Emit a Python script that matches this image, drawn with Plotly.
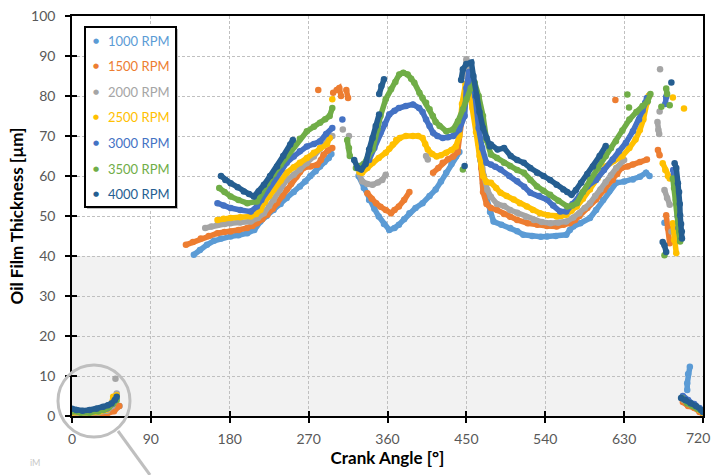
import plotly.graph_objects as go

N = None
# ---- data (crank angle [deg], oil film thickness [um]); None = gap ----
angle_1000 = [0, 8, 16, 24, 32, 40, 48, 54, N,
              139, 146, 154, 162, 170, 181, 190, 200, 208, 215, 222, 230, 238, 245, 253, 260, 266, 272, 278, 283, 288, 293, 296, N,
              327, 333, 339, 345, 350, 356, 362, 368, 373, 379, 385, 392, 400, 408, 415, 421, 427, 433, 438, 442, N,
              458, 462, 466, 469, 473, 477, 481, 490, 500, 508, 515, 525, 535, 542, 552, 564, 568, 572, 580, 591, 598, 606, 613, 621, 630, 640, 648, 655, 659, N,
              676, N, 705, 703, 702, 702, N, 699, 703, 708, 713, 718]
oft_1000 = [0.8, 0.6, 0.5, 0.6, 0.7, 0.9, 1.5, 2.5, N,
            40.3, 41.5, 42.8, 43.8, 44.4, 44.9, 45.2, 45.7, 46.5, 48.6, 50, 51.5, 53, 54.5, 56, 57.4, 58.6, 60, 61.2, 62.4, 63.5, 64.5, 65.5, N,
            60, 57, 54, 51.8, 49.9, 48, 46.5, 47, 47.8, 49.2, 50.7, 52, 53.2, 55, 56.6, 58.6, 60.8, 63, 64.9, 66, N,
            79, 72, 64, 58.2, 54.5, 51, 48.6, 47.8, 47, 46.2, 45.3, 45, 44.8, 44.9, 45, 45.3, 46.5, 47.4, 48.2, 49.5, 51.5, 54, 56.2, 58.3, 58.6, 59.1, 59.8, 60.8, 60, N,
            48.3, N, 12.3, 10.5, 8.2, 6.5, N, 4.5, 3.5, 3, 2.2, 1.2]

angle_1500 = [0, 10, 20, 30, 40, 48, 54, N,
              130, 138, 147, 156, 166, 174, 181, 190, 200, 206, 211, 217, 223, 229, 234, 240, 245, 250, 256, 260, 264, 272, 280, 284, 287, 292, 297, N,
              281, N, 298, N, 302, 305, 307, N, 313, 315, N,
              337, 342, 347, 352, 358, 364, 368, 373, 379, 385, N,
              412, 418, 423, 429, 435, 440, 446, 450, 453, 456, 460, 464, 467, 469, 473, 478, 485, 493, 500, 508, 520, 531, 542, 553, 561, 568, 574, 579, 588, 598, 607, 617, 622, 627, 634, 640, 648, 656, N,
              620, N, 659, N, 668.6, 670.5, N, 678, 680, 682, N, 697, 703, 710, 716, 720]
oft_1500 = [0.4, 0.3, 0.3, 0.4, 0.6, 1.2, 2.5, N,
            42.8, 43.5, 44.4, 45, 45.7, 46, 46.1, 46.5, 47, 47.5, 48.2, 49.2, 50.3, 51.8, 53.2, 55, 56.6, 58, 59.8, 61, 62, 62.4, 62.8, 64, 65.3, 66.4, 67, N,
            81.5, N, 80.8, N, 81.5, 82, 80, N, 81.5, 79.5, N,
            55.7, 54.3, 53.2, 52.3, 51.5, 50.7, 51.5, 52.4, 54, 56, N,
            60.8, 62, 63.3, 64.2, 64.9, 66, 76, 80, 83, 82, 78, 70, 62, 56, 53, 52, 51.5, 50.5, 49.8, 49, 48.2, 47.8, 47.5, 47.4, 47.8, 48.2, 49, 50, 52, 54.1, 56.5, 59, 60.5, 62, 62.4, 62.9, 63.5, 64.1, N,
            79, N, 80.2, N, 66.5, 65.2, N, 50.2, 47, 43.2, N, 3.5, 2.5, 2, 1, 0.5]

angle_2000 = [0, 10, 20, 30, 40, 46, 50, 51, N, 49.6, N,
              152, 159, 166, 174, 181, 192, 204, 212, 219, 225, 230, 237, 245, 253, 260, 268, 276, 283, 291, 297, N,
              309, N, 316, N,
              328, 331, 337, 343, 349, 354, 358, N, 404, 406, N,
              447, 450, 453, 456, 460, 464, 468, 470, 474, 478, 485, 493, 500, 508, 518, 527, 536, 546, 555, 564, 572, 579, 585, 591, 597, 603, 609, 615, 621, 630, N,
              671, N, 670.5, N, 668, 669, 670, N, 676, 679, 682, N, 684, N, 698, 704, 710, 716, 720]
oft_2000 = [0.8, 0.7, 0.7, 0.9, 1.3, 2.5, 4.5, 5.6, N, 9.3, N,
            47, 47.4, 47.8, 48, 48.2, 48.4, 48.6, 49.5, 50.7, 52.5, 54, 56.5, 59, 60.3, 61.6, 63.2, 64.9, 66.8, 68.7, 70, N,
            71.6, N, 70, N,
            60.5, 58.7, 58, 57.8, 58.4, 59, 60.3, N, 65, 64.1, N,
            85, 89.2, 86, 82, 76, 68, 62, 60, 56.5, 54.8, 53, 52.5, 51.5, 50.8, 49.8, 49, 48.5, 48.2, 48.3, 48.6, 49.6, 50.7, 52, 53.2, 55, 56.6, 58.5, 60.2, 62, 64, N,
            86.7, N, 76.1, N, 73.5, 71.5, 70.5, N, 56.5, 54.5, 52.8, N, 46.1, N, 4, 3, 2.5, 1.5, 1]

angle_2500 = [0, 10, 20, 30, 40, 45, 47, 51, N,
              166, 173, 181, 192, 204, 210, 215, 220, 225, 230, 238, 245, 253, 260, 268, 276, 283, 291, 294, N,
              297, N,
              328, 331, 337, 343, 350, 358, 362, 366, 370, 374, 381, 389, 395, 400, 403, 406, 411, 416, 421, 427, 433, 438, 442, 445, 449, 453, 457, 461, 465, 469, 473, 478, 484, 489, 496, 504, 511, 519, 526, 534, 543, 553, 558, 564, 570, 576, 583, 591, 600, 609, 618, 628, 636, 643, 648, 652, 656, 658, N,
              685.6, N, 698.3, N, 674, 677, 680, 682, N, 685.6, 687, 689.5, N, 697, 703, 710, 716, 720]
oft_2500 = [0.9, 0.8, 0.8, 1, 1.6, 3, 4.8, 5.2, N,
            49, 49.3, 49.5, 49.7, 49.9, 50.5, 51.5, 53.5, 55, 56.6, 58.8, 60.8, 62.2, 63.3, 64.5, 65.8, 67, 68, 69.5, N,
            79.2, N,
            61, 60.8, 62, 63.3, 64.5, 65.8, 66.8, 67.9, 69, 69.5, 70, 70, 70, 69.5, 68, 66.6, 65.5, 64.9, 65.2, 65.8, 66.5, 67.4, 70, 78, 83, 82, 77, 71, 65, 60, 58.5, 58.3, 57, 55.8, 55, 54.1, 53.2, 52.4, 51.5, 50.7, 50.2, 49.9, 50, 50.3, 51.3, 52.4, 54.3, 56.6, 59.5, 62.4, 63.8, 65, 67, 69.1, 71.5, 74.1, 78.3, 80, N,
            79.6, N, 76.9, N, 63.2, 61.5, 60, 59.4, N, 48.2, 44, 40.7, N, 4.5, 3.5, 2.5, 1.5, 0.8]

angle_3000 = [0, 10, 20, 30, 40, 46, 50, N,
              166, 173, 181, 192, 204, 211, 216, 223, 230, 238, 245, 253, 260, 268, 276, 283, 290, 297, N,
              308.5, N,
              326, 333, 339, 345, 352, 357, 362, 368, 373, 381, 389, 396, 400, 404, 408, 412, 417, 423, 429, 435, 442, 448, 450, 453, 456, 460, 464, 468, 473, 478, 483, 489, 499, 508, 516, 523, 533, 542, 549, 557, 564, 571, 579, 588, 598, 607, 617, 624, 632, 640, 647, 651, 654, 656, N,
              677, 678, N, 686, 688, 690, 691, 692, 694, N, 697, 703, 710, 716, 720]
oft_3000 = [1.2, 1, 1.1, 1.3, 1.9, 3, 4, N,
            53.2, 52.6, 52, 51.5, 51.1, 52.4, 54, 56.6, 59, 61.6, 63.3, 64.9, 66.2, 67.4, 68, 68.7, 70.5, 72, N,
            74.1, N,
            62, 63, 64, 67, 70.8, 73, 75.4, 76.3, 77, 77.5, 77.9, 77, 76, 74.1, 72.5, 70.8, 70, 69.5, 69.7, 70, 71.6, 75, 82, 86, 84, 80, 72, 67, 63.3, 62.9, 62.3, 61.6, 60, 58.7, 57.3, 55.8, 55, 54.1, 52.6, 51.1, 51.1, 53, 55, 57.4, 59, 61.5, 64.1, 66.2, 68.3, 71.2, 74.1, 76.3, 78.3, 79.5, N,
            78, 79.8, N, 61.5, 57, 53, 50, 47, 44, N, 5, 4, 3, 2, 1]

angle_3500 = [0, 10, 20, 30, 36, 42, 47, 51, N,
              168, 174, 181, 190, 200, 211, 216, 223, 230, 238, 245, 253, 260, 268, 276, 283, 289, 294, 297, N,
              314, 316, 317, N,
              324, 328, 333, 338, 343, 348.5, 352, 358, 364, 369, 373.4, 378, 383, 387, 390.6, 396.4, 400, 404, 408, 411.7, 415, 419.4, 427, 434.7, 440.4, 446, 450, 455, 459.6, 464, 469, 473, 478, 485, 493, 500, 508, 515.6, 523, 530.6, 538, 545.6, 555, 565, 571, 576, 583, 591, 600, 609, 615, 620.6, 628, 636, 644, 651, 657, 660, N,
              446, N, 633.7, N, 635.6, N, 678, 679, N, 682, N, 672.5, N,
              685.6, 687, 689, 691, 692.7, 693, 693.9, N, 676, N, 696, 702, 708, 714, 720]
oft_3500 = [1.2, 0.8, 0.8, 1.1, 1.5, 2.2, 3.1, 4, N,
            57, 56, 54.9, 54, 53.2, 53.6, 55.8, 58.2, 60.5, 62.8, 65, 67.4, 69.3, 71.2, 72.3, 73.3, 74.2, 75, 77, N,
            69, 67, 65, N,
            62, 62.5, 63, 65, 66.6, 71.6, 75, 79.2, 81.7, 83.5, 85.4, 85.8, 85.4, 84.3, 83.3, 80.8, 79.5, 78.3, 76.7, 75, 73.5, 72.5, 71.2, 71.6, 73.7, 76.7, 79.2, 82, 83.3, 80, 75, 69, 65.4, 64.5, 63.3, 62.5, 61.5, 60.8, 59, 57.4, 56.3, 55.3, 53.8, 52.4, 52.6, 53.2, 56, 59, 62, 65, 67, 68.7, 71.4, 74.1, 76, 77.5, 78.7, 80.5, N,
            61.6, N, 80.4, N, 77.1, N, 81.9, 80.5, N, 77.7, N, 77.3, N,
            59.4, 57, 54, 51, 48.2, 46, 43.6, N, 40.2, N, 4.5, 3.2, 2.5, 1.8, 1]

angle_4000 = [0, 5, 12, 20, 28, 35.5, 41, 45, 48.8, 51, N,
              170, 175, 181, 189, 196, 202, 207.5, 213, 219, 226, 234, 241, 249, 252, N,
              322, 326, 330, 335, 339, 343, 346.6, 350.4, N, 350.5, 353, 356, N,
              444, 446, 450, 455.7, 458, 461.5, 465, 469, 473, 476.8, 478, 485.6, 493, 500.6, 508, 515.6, 523, 530.6, 538, 545.6, 553, 560.6, 565, 570, 575, 581, 588, 594.4, 602, 609, N,
              448, N, 683.9, N, 687.6, 689.5, 691.4, 692.7, 693.5, 693.9, 695, 695.8, 696, N, 674, 676, 678, N,
              695, 700, 706, 712, 718, 720]
oft_4000 = [1.8, 1.5, 1.3, 1.5, 1.8, 2.3, 2.7, 3.1, 4, 4.8, N,
            60, 59, 58.2, 57.2, 56.1, 55.5, 54.9, 56.2, 57.8, 60, 62.4, 65, 67.9, 69, N,
            64, 62, 61.6, 63, 66.6, 69.5, 72.5, 75.4, N, 80.5, 82.5, 84.2, N,
            84, 86.7, 88, 88.4, 85, 80, 76, 72, 69.5, 67.4, 67.9, 66.6, 67, 65, 64, 63.3, 62, 60.8, 60, 59, 57.8, 56.6, 56, 55.3, 56.5, 58.3, 60.5, 62.4, 65, 67.5, N,
            62.5, N, 83.4, N, 63.2, 62, 58.2, 56, 53, 50.2, 48, 46.1, 44.4, N, 43.5, 42.7, 41, N,
            4.5, 4, 3.2, 2.5, 1.5, 1]

series_names = ["1000 RPM", "1500 RPM", "2000 RPM", "2500 RPM", "3000 RPM", "3500 RPM", "4000 RPM"]
series_colors = ["#5B9BD5", "#ED7D31", "#A5A5A5", "#FFC000", "#4472C4", "#70AD47", "#255E91"]
series_x = [angle_1000, angle_1500, angle_2000, angle_2500, angle_3000, angle_3500, angle_4000]
series_y = [oft_1000, oft_1500, oft_2000, oft_2500, oft_3000, oft_3500, oft_4000]

x_ticks = [0, 90, 180, 270, 360, 450, 540, 630, 720]
y_ticks = [0, 10, 20, 30, 40, 50, 60, 70, 80, 90, 100]

FONT = "Lato"
fig = go.Figure()

for name, col, xs, ys in zip(series_names, series_colors, series_x, series_y):
    fig.add_trace(go.Scatter(x=xs, y=ys, mode="lines+markers", name=name, showlegend=False,
                             line=dict(color=col, width=5.5), marker=dict(color=col, size=6.5),
                             hoverinfo="skip"))

# shaded band 0-40 um
fig.add_shape(type="rect", xref="x", yref="y", x0=0, x1=720, y0=0, y1=40,
              fillcolor="#F2F2F2", line_width=0, layer="below")

# magnifier circle and pointer line (paper coordinates)
fig.add_shape(type="circle", xref="paper", yref="paper", x0=-0.0222, x1=0.0919, y0=-0.0525, y1=0.1275,
              line=dict(color="#BFBFBF", width=3))
fig.add_shape(type="line", xref="paper", yref="paper", x0=0.0729, y0=-0.0375, x1=0.1236, y1=-0.1475,
              line=dict(color="#BFBFBF", width=3))

# legend box (drawn as shapes + text), px -> paper helpers
PW, PH, L0, B0 = 631.0, 400.0, 72.0, 416.0
def px(x):
    return (x - L0) / PW
def py(y):
    return (B0 - y) / PH

fig.add_shape(type="rect", xref="paper", yref="paper", x0=px(87), x1=px(178), y0=py(209), y1=py(29),
              fillcolor="#BDBDBD", line_width=0, layer="above")
fig.add_shape(type="rect", xref="paper", yref="paper", x0=px(85), x1=px(176), y0=py(207), y1=py(27),
              fillcolor="white", line=dict(color="black", width=2), layer="above")

annotations = []
for i, (name, col) in enumerate(zip(series_names, series_colors)):
    yy = 40.5 + 25.6 * i
    annotations.append(dict(text="●", xref="paper", yref="paper", x=px(96), y=py(yy),
                            xanchor="center", yanchor="middle", showarrow=False,
                            font=dict(family="DejaVu Sans", size=7, color=col)))
    annotations.append(dict(text=name, xref="paper", yref="paper", x=px(106), y=py(yy),
                            xanchor="left", yanchor="middle", showarrow=False,
                            font=dict(family=FONT, size=13, color=col)))
annotations.append(dict(text="iM", xref="paper", yref="paper", x=-0.07, y=-0.135, showarrow=False,
                        font=dict(family=FONT, size=9, color="#C8C8C8")))
# right-edge tick label shifted inward like the source chart
annotations.append(dict(text="720", xref="x", yref="paper", x=720, y=0, xanchor="center", yanchor="top",
                        xshift=-5, yshift=-11, showarrow=False,
                        font=dict(family=FONT, size=14, color="#595959")))

axis_common = dict(showline=True, linecolor="black", linewidth=1.5, mirror=True,
                   ticks="outside", ticklen=5, tickwidth=1.5, tickcolor="black",
                   showgrid=True, gridcolor="#C0C0C0", griddash="3px,2px", gridwidth=1,
                   zeroline=False, automargin=False,
                   tickfont=dict(family=FONT, size=14, color="#595959"))

fig.update_layout(
    width=715, height=475,
    margin=dict(l=72, r=12, t=16, b=59),
    paper_bgcolor="white", plot_bgcolor="white",
    font=dict(family=FONT),
    showlegend=False,
    xaxis=dict(range=[0, 720], tickvals=x_ticks, ticktext=[str(v) if v != 720 else "" for v in x_ticks],
               ticklabelstandoff=4,
               title=dict(text="<b>Crank Angle [°]</b>", font=dict(family=FONT, size=17, color="black"), standoff=6),
               **axis_common),
    yaxis=dict(range=[0, 100], tickvals=y_ticks, ticklabelstandoff=7,
               title=dict(text="<b>Oil Film Thickness [µm]</b>", font=dict(family=FONT, size=17, color="black"), standoff=3),
               **axis_common),
    xaxis2=dict(range=[0, 720], tickvals=x_ticks, overlaying="x", anchor="y", side="bottom",
                ticks="inside", ticklen=5, tickwidth=1.5, tickcolor="black", automargin=False,
                showticklabels=False, showgrid=False, showline=False, zeroline=False),
    yaxis2=dict(range=[0, 100], tickvals=y_ticks, overlaying="y", anchor="x", side="left",
                ticks="inside", ticklen=5, tickwidth=1.5, tickcolor="black", automargin=False,
                showticklabels=False, showgrid=False, showline=False, zeroline=False),
    annotations=annotations,
)
fig.add_trace(go.Scatter(x=[None], y=[None], xaxis="x2", yaxis="y2", showlegend=False, hoverinfo="skip"))

fig.write_html("out.html", config={"displayModeBar": False},
               post_script="document.body.style.margin='0';")
